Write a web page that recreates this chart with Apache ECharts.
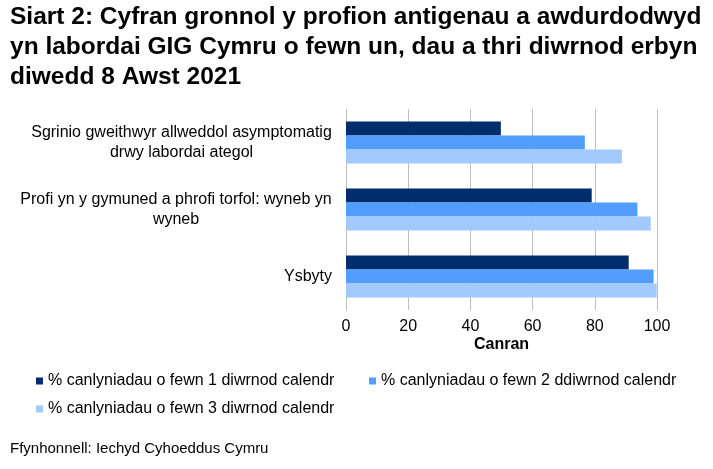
<!DOCTYPE html>
<html>
<head>
<meta charset="utf-8">
<script src="https://cdn.jsdelivr.net/npm/echarts@6/dist/echarts.min.js"></script>
<style>html,body{margin:0;padding:0;background:#fff}#c{width:713px;height:469px}</style>
</head>
<body>
<div id="c"></div>
<script>
const categories = [
  'Sgrinio gweithwyr allweddol asymptomatig\ndrwy labordai ategol',
  'Profi yn y gymuned a phrofi torfol: wyneb yn\nwyneb',
  'Ysbyty'
];
const seriesNames = [
  '% canlyniadau o fewn 1 diwrnod calendr',
  '% canlyniadau o fewn 2 ddiwrnod calendr',
  '% canlyniadau o fewn 3 diwrnod calendr'
];
const within1 = [49.8, 79.0, 90.9];
const within2 = [76.8, 93.7, 98.9];
const within3 = [88.7, 98.0, 99.9];
const xTicks = [0, 20, 40, 60, 80, 100];

const colors = ['#002D6B', '#529EFF', '#A3CAFF'];
const FONT = '"Liberation Sans", Arial, sans-serif';
const CAT_FS = 16;

// measure widest line of each category label so lines can be centred
const cv = document.createElement('canvas').getContext('2d');
cv.font = CAT_FS + 'px ' + FONT;
const rich = {};
categories.forEach((c, i) => {
  const w = Math.max(...c.split('\n').map(s => cv.measureText(s).width));
  rich['w' + i] = {width: Math.ceil(w), align: 'center', fontSize: CAT_FS, lineHeight: 20, color: '#000', fontFamily: FONT};
});

const chart = echarts.init(document.getElementById('c'), null, {renderer: 'canvas'});
const values = [within1, within2, within3];
const legendStyle = {fontSize: 16, color: '#000', fontFamily: FONT};
const legendBase = {padding: 0, itemWidth: 7, itemHeight: 7, itemGap: 0, icon: 'rect', textStyle: legendStyle};

chart.setOption({
  animation: false,
  textStyle: {fontFamily: FONT},
  title: {
    text: 'Siart 2: Cyfran gronnol y profion antigenau a awdurdodwyd\nyn labordai GIG Cymru o fewn un, dau a thri diwrnod erbyn\ndiwedd 8 Awst 2021',
    left: 10, top: 2, padding: 0,
    textStyle: {fontFamily: FONT, fontSize: 24.5, fontWeight: 'bold', color: '#000', lineHeight: 30}
  },
  graphic: [{
    type: 'text', left: 10, top: 441,
    style: {text: 'Ffynhonnell: Iechyd Cyhoeddus Cymru', font: '15px ' + FONT, fill: '#000'}
  }],
  legend: [
    Object.assign({data: [seriesNames[0]], left: 36, top: 373}, legendBase),
    Object.assign({data: [seriesNames[1]], left: 369, top: 373}, legendBase),
    Object.assign({data: [seriesNames[2]], left: 36, top: 401}, legendBase)
  ],
  grid: {left: 346, right: 56, top: 109, bottom: 159, containLabel: false},
  xAxis: {
    type: 'value', min: 0, max: 100, interval: 20,
    name: 'Canran', nameLocation: 'middle', nameGap: 27,
    nameTextStyle: {fontSize: 16, fontWeight: 'bold', color: '#000', fontFamily: FONT},
    axisLine: {show: false}, axisTick: {show: false},
    axisLabel: {fontSize: 16, color: '#000', margin: 9, fontFamily: FONT,
      formatter: v => xTicks.includes(v) ? String(v) : ''},
    splitLine: {show: true, lineStyle: {color: '#BEBEBE', width: 1}}
  },
  yAxis: {
    type: 'category', inverse: true, data: categories,
    axisLine: {show: true, lineStyle: {color: '#BEBEBE'}},
    axisTick: {show: false},
    axisLabel: {
      fontSize: CAT_FS, color: '#000', margin: 14, lineHeight: 20, fontFamily: FONT,
      formatter: (v, i) => {
        if (v.indexOf('\n') < 0) return v;
        return v.split('\n').map(s => '{w' + i + '|' + s + '}').join('\n');
      },
      rich: rich
    }
  },
  series: seriesNames.map((n, k) => ({
    name: n, type: 'bar', data: values[k],
    barGap: '0%', barCategoryGap: '37%',
    itemStyle: {color: colors[k]}
  }))
});
</script>
</body>
</html>
